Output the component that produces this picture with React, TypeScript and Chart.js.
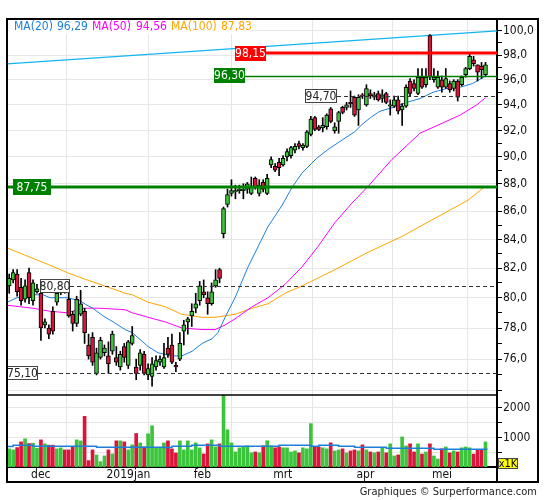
import { useEffect, useRef } from 'react';
import { Chart, registerables } from 'chart.js';
Chart.register(...registerables);

const opens = [80.8,81.2,81.6,80.7,79.9,81.7,79.8,80.4,80.3,78.2,
 78.0,79.1,79.7,80.4,80.6,79.9,78.9,78.3,78.9,79.1,
 76.9,77.4,75.1,76.1,76.4,76.2,76.5,76.1,75.5,76.8,
 75.6,77.0,75.5,75.6,76.3,75.0,74.9,75.5,75.8,75.5,
 76.7,76.9,75.6,76.0,77.8,78.4,78.8,79.3,79.8,80.4,
 80.0,79.6,80.8,81.9,84.4,86.5,87.3,87.4,87.5,87.5,
 87.6,87.3,88.4,87.3,88.1,87.3,89.4,89.3,89.6,89.4,
 90.0,90.1,90.5,91.0,90.7,90.8,91.7,93.0,92.3,92.2,
 92.3,93.7,92.0,92.7,93.8,93.8,94.2,94.6,93.6,94.8,
 94.0,94.9,94.6,94.9,94.5,94.9,93.9,93.9,94.4,93.6,
 93.9,95.9,95.7,94.9,96.2,95.6,99.6,96.0,95.4,96.0,
 95.4,95.7,95.3,95.9,95.6,96.4,96.9,97.6,97.2,97.1,
 96.4];
const highs = [81.6,81.9,81.9,81.3,81.2,82.0,81.2,80.9,80.6,78.6,
 78.2,79.4,80.8,80.9,80.9,80.6,79.1,80.1,80.5,79.3,
 77.6,77.7,76.7,77.4,76.9,77.1,77.8,76.8,76.5,77.0,
 77.2,78.1,76.0,76.6,76.5,75.7,76.1,76.2,76.2,77.0,
 77.4,77.6,75.8,77.7,78.5,78.7,79.6,80.3,81.1,81.2,
 80.4,81.0,81.9,82.0,86.3,87.6,88.3,87.9,87.9,88.0,
 88.1,88.5,88.5,88.3,88.3,88.7,90.0,89.5,89.9,90.1,
 90.6,90.8,91.0,91.2,91.0,92.0,93.1,93.1,92.4,93.0,
 93.3,93.8,92.6,93.5,93.9,94.2,95.1,94.7,94.8,94.9,
 95.6,95.2,95.0,95.1,95.2,95.0,94.4,94.7,94.7,94.1,
 95.6,96.1,96.0,96.9,96.9,96.9,99.7,96.9,96.7,96.3,
 96.9,95.9,96.0,96.0,96.3,97.0,98.1,97.9,97.2,97.4,
 97.4];
const lows = [80.3,81.0,80.1,79.5,79.7,79.6,79.5,80.3,77.2,78.0,
 77.3,77.6,79.5,80.2,80.3,78.7,77.8,78.1,78.8,77.0,
 76.0,75.6,75.0,76.0,76.2,75.1,76.3,75.6,75.3,75.8,
 75.4,76.9,74.7,75.3,75.0,74.7,74.3,75.3,75.6,75.4,
 76.1,75.7,75.2,75.9,76.9,77.6,78.1,79.0,79.5,80.0,
 78.9,79.5,80.7,81.0,84.1,86.3,87.1,86.9,87.3,86.9,
 87.3,87.2,87.6,87.1,87.4,87.2,89.2,88.9,88.6,89.3,
 89.7,89.9,90.3,90.6,90.5,90.7,91.6,92.0,92.0,91.9,
 92.1,92.6,91.8,91.8,93.3,93.6,93.8,93.1,92.4,94.5,
 93.9,94.5,94.4,94.3,94.2,94.1,93.2,93.8,93.3,92.4,
 93.8,94.7,95.1,94.8,95.3,95.4,96.0,95.8,95.3,95.0,
 95.3,95.0,95.1,94.3,95.5,96.2,96.8,97.1,95.9,96.1,
 96.3];
const closes = [81.3,81.7,80.4,79.8,80.8,80.0,81.0,80.6,78.0,78.4,
 77.6,77.8,80.3,80.7,80.5,78.8,78.3,79.9,79.6,77.7,
 76.2,75.8,76.4,77.2,76.7,75.7,77.6,75.8,76.3,76.1,
 77.1,77.5,75.1,76.4,75.1,75.4,75.7,75.9,76.0,76.1,
 76.3,75.8,75.5,77.0,78.2,78.6,79.1,79.6,80.8,80.2,
 79.6,80.4,81.2,81.3,86.2,87.2,87.5,87.5,87.6,87.6,
 88.0,87.8,87.7,87.9,87.6,88.4,89.8,89.0,89.2,89.9,
 90.4,90.7,90.8,90.8,90.9,91.9,92.9,92.1,92.1,92.4,
 93.2,92.7,92.3,93.4,93.4,94.0,94.1,93.2,94.6,94.7,
 95.3,94.7,94.8,94.4,94.8,94.2,94.0,94.4,93.5,93.9,
 95.4,94.9,95.3,96.2,95.4,96.2,96.2,96.2,96.2,95.4,
 96.1,95.2,95.9,94.6,96.2,96.9,97.9,97.3,96.6,96.8,
 97.2];
const volumes = [614,580,659,852,955,795,807,636,920,784,
 739,739,614,648,580,580,682,920,886,1716,
 216,580,409,182,375,580,443,886,886,852,
 580,750,1136,818,682,1125,1398,648,648,818,
 886,614,477,886,580,886,580,818,648,443,
 784,920,682,784,2450,1261,818,511,648,682,
 716,480,510,480,715,890,715,650,680,650,
 650,510,545,480,650,615,1470,680,680,650,
 615,820,545,580,615,480,545,580,545,750,
 580,510,480,510,650,480,785,375,410,1020,
 715,785,510,785,440,510,785,375,270,615,
 680,480,545,510,650,680,650,440,580,580,
 850];

const monthStarts = [5, 24, 46, 66, 87, 106];
const monthLabels = ['dec', '2019jan', 'feb', 'mrt', 'apr', 'mei'];

const ma20X = [-0.5,2,6,8.5,10.3,14.6,17.8,19.6,21.1,23.6,26.2,29.2,31,35,37.5,41,43.5,46.1,48.6,51.1,52.6,54.4,56.9,60.2,65.2,68.7,71.2,73.8,77.5,80.5,84,87,89,91,93.4,96.7,100.2,103.5,106.8,110.3,113.6,116.8,120];
const ma20Y = [79.7,80.0,80.2,80.2,80.0,80.0,79.8,79.5,79.3,78.8,78.4,77.9,77.7,76.8,76.4,76.2,76.2,76.5,77.0,77.3,77.7,78.7,80.0,82.1,84.9,86.4,87.7,88.8,89.9,90.6,91.3,91.9,92.5,93.0,93.5,93.8,94.2,94.5,95.0,95.3,95.4,95.7,96.29];
const ma50X = [-0.5,6,10.3,14.6,18.6,22.9,29.2,31,35,39.3,43.5,48.6,51.9,54.4,56.9,61.2,65.2,69.5,73.8,77.8,82.1,86.4,90.4,96.4,103.5,109.3,113.6,117.8,120];
const ma50Y = [79.5,79.3,79.1,79.0,79.3,79.3,79.2,79.0,78.7,78.4,78.0,77.9,77.9,78.2,78.6,79.4,80.0,80.9,82.1,83.5,85.2,86.6,87.8,89.8,91.8,92.6,93.2,94.0,94.56];
const ma100X = [-0.5,4,10.3,14.6,18.6,22.9,29.2,31,35,39.3,43.5,46.1,48.6,51.9,54.4,56.9,61.2,65.2,69.5,73.8,82.1,90.4,98.9,107.3,115.6,120];
const ma100Y = [83.4,82.9,82.2,81.7,81.3,80.9,80.3,80.2,79.7,79.4,78.9,78.8,78.7,78.7,78.8,78.9,79.3,79.6,80.3,80.8,81.9,83.1,84.2,85.5,86.8,87.83];
const trendX = [-0.55, 122.9];
const trendY = [97.28, 100.0];
const volMaX = [-0.5, 1, 6, 22, 39, 41, 46, 53, 68, 76, 78, 83, 87, 95, 107, 114, 120.5];
const volMaY = [739, 693, 739, 705, 670, 659, 705, 739, 705, 739, 705, 739, 705, 670, 636, 602, 602];

const levelRed = 98.15;
const levelGreen = 96.30;
const levelGreenThick = 87.75;
const dashLevels = [94.70, 80.80, 75.10];

const priceTicks = [74,75,76,77,78,79,80,81,82,83,84,85,86,87,88,89,90,91,92,93,94,95,96,97,98,99,100];
const priceLabelTicks = [76,78,80,82,84,86,88,90,92,94,96,98,100];
const volTicks = [500, 1000, 1500, 2000];
const volLabelTicks = [1000, 2000];

const FONT = "'DejaVu Sans Condensed', 'DejaVu Sans', sans-serif";
const GREEN = '#3cc43c';
const RED = '#dc143c';
const GRID = '#e6e6e6';

const fmt = (v: number, d = 2) => v.toFixed(d).replace('.', ',');

const pts = (xs: number[], ys: number[]) => xs.map((x, i) => ({ x, y: ys[i] }));

function drawBox(ctx: CanvasRenderingContext2D, text: string, left: number, width: number, yc: number, h: number, fill: string, color: string, stroke?: string) {
  const top = Math.round(yc - h / 2);
  ctx.fillStyle = fill;
  ctx.fillRect(left, top, width, h);
  if (stroke) {
    ctx.strokeStyle = stroke;
    ctx.lineWidth = 1;
    ctx.strokeRect(left + 0.5, top + 0.5, width - 1, h - 1);
  }
  ctx.fillStyle = color;
  ctx.font = `12px ${FONT}`;
  ctx.textAlign = 'center';
  ctx.textBaseline = 'middle';
  ctx.fillText(text, left + width / 2, top + h / 2 + 0.5);
}

const overlay = {
  id: 'overlay',
  afterDatasetsDraw(chart: any) {
    const ctx: CanvasRenderingContext2D = chart.ctx;
    const y = chart.scales.y;
    const right = chart.chartArea.right;
    ctx.save();
    const dashStarts = [337, 70, 38];
    dashLevels.forEach((lv, k) => {
      const py = Math.round(y.getPixelForValue(lv)) + 0.5;
      ctx.strokeStyle = '#333';
      ctx.lineWidth = 1;
      ctx.setLineDash([4, 3]);
      ctx.beginPath();
      ctx.moveTo(dashStarts[k], py);
      ctx.lineTo(right, py);
      ctx.stroke();
    });
    ctx.setLineDash([]);
    let py = Math.round(y.getPixelForValue(levelGreen)) + 0.5;
    ctx.strokeStyle = '#008000';
    ctx.lineWidth = 1.5;
    ctx.beginPath(); ctx.moveTo(245, py); ctx.lineTo(right, py); ctx.stroke();
    py = Math.round(y.getPixelForValue(levelRed));
    ctx.strokeStyle = '#ff0000';
    ctx.lineWidth = 3;
    ctx.beginPath(); ctx.moveTo(266, py); ctx.lineTo(right, py); ctx.stroke();
    py = Math.round(y.getPixelForValue(levelGreenThick));
    ctx.strokeStyle = '#008000';
    ctx.lineWidth = 3;
    ctx.beginPath(); ctx.moveTo(chart.chartArea.left, py); ctx.lineTo(right, py); ctx.stroke();

    drawBox(ctx, fmt(levelRed), 235, 31, y.getPixelForValue(levelRed), 15, '#ff0000', '#fff');
    drawBox(ctx, fmt(levelGreen), 214, 31, y.getPixelForValue(levelGreen), 15, '#008000', '#fff');
    drawBox(ctx, fmt(levelGreenThick), 13, 38, y.getPixelForValue(levelGreenThick), 16, '#008000', '#fff');
    const boxLefts = [305, 40, 7];
    const boxW = [32, 30, 31];
    dashLevels.forEach((lv, k) => {
      drawBox(ctx, fmt(lv), boxLefts[k], boxW[k], y.getPixelForValue(lv), 14, '#fff', '#222', '#444');
    });
    ctx.restore();
  },
  afterDraw(chart: any) {
    const ctx: CanvasRenderingContext2D = chart.ctx;
    const ca = chart.chartArea;
    const vol = chart.scales.vol;
    ctx.save();
    ctx.fillStyle = '#fff';
    ctx.fillRect(9, 20, 241, 14);
    ctx.font = `12px ${FONT}`;
    ctx.textAlign = 'left';
    ctx.textBaseline = 'middle';
    const legend = [
      { name: 'MA(20)', val: ma20Y[ma20Y.length - 1], color: '#1e7fd8', x: 14, vx: 57 },
      { name: 'MA(50)', val: ma50Y[ma50Y.length - 1], color: '#ff00ff', x: 92, vx: 136 },
      { name: 'MA(100)', val: ma100Y[ma100Y.length - 1], color: '#ffa500', x: 171, vx: 221 },
    ];
    legend.forEach((l) => {
      ctx.fillStyle = l.color;
      ctx.fillText(l.name, l.x, 27);
      ctx.fillText(fmt(l.val), l.vx, 27);
    });
    ctx.strokeStyle = '#000';
    ctx.lineWidth = 2;
    ctx.strokeRect(7, 19, 531, 463);
    ctx.lineWidth = 1.5;
    ctx.beginPath();
    ctx.moveTo(7, vol.top);
    ctx.lineTo(ca.right, vol.top);
    ctx.stroke();
    ctx.lineWidth = 2;
    ctx.beginPath();
    ctx.moveTo(ca.right, ca.bottom);
    ctx.lineTo(ca.right, 482);
    ctx.stroke();
    ctx.fillStyle = '#ffff00';
    ctx.fillRect(498, 458, 20, 11);
    ctx.strokeStyle = '#444';
    ctx.lineWidth = 1;
    ctx.strokeRect(498.5, 458.5, 19, 10);
    ctx.fillStyle = '#000';
    ctx.font = `11px ${FONT}`;
    ctx.textAlign = 'center';
    ctx.fillText('x1K', 508, 464);
    ctx.fillStyle = '#222';
    ctx.font = `11px ${FONT}`;
    ctx.textAlign = 'right';
    ctx.fillText('Graphiques \u00a9 Surperformance.com', 537, 492);
    ctx.restore();
  },
};

export default function App() {
  const ref = useRef<HTMLCanvasElement>(null);
  useEffect(() => {
    if (!ref.current) return;
    const idx = closes.map((_, i) => i);
    const candleColors = idx.map((i) => (closes[i] >= opens[i] ? GREEN : RED));
    const chart = new Chart(ref.current, {
      type: 'bar',
      data: {
        datasets: [
          {
            type: 'bar',
            label: 'bodies',
            yAxisID: 'y',
            data: idx.map((i) => ({ x: i, y: [Math.min(opens[i], closes[i]), Math.max(opens[i], closes[i])] })) as any,
            backgroundColor: candleColors,
            borderColor: '#000',
            borderWidth: 1,
            borderSkipped: false,
            barThickness: 4,
            grouped: false,
            order: 1,
          } as any,
          {
            type: 'bar',
            label: 'wicks',
            yAxisID: 'y',
            data: idx.map((i) => ({ x: i, y: [lows[i], highs[i]] })) as any,
            backgroundColor: '#000',
            barThickness: 1,
            grouped: false,
            order: 2,
          } as any,
          {
            type: 'line',
            label: 'MA20',
            yAxisID: 'y',
            data: pts(ma20X, ma20Y),
            borderColor: '#1e7fd8',
            borderWidth: 1,
            pointRadius: 0,
            order: 3,
          },
          {
            type: 'line',
            label: 'MA50',
            yAxisID: 'y',
            data: pts(ma50X, ma50Y),
            borderColor: '#ff00ff',
            borderWidth: 1,
            pointRadius: 0,
            order: 3,
          },
          {
            type: 'line',
            label: 'MA100',
            yAxisID: 'y',
            data: pts(ma100X, ma100Y),
            borderColor: '#ffa500',
            borderWidth: 1,
            pointRadius: 0,
            order: 3,
          },
          {
            type: 'line',
            label: 'trend',
            yAxisID: 'y',
            data: pts(trendX, trendY),
            borderColor: '#12b5ee',
            borderWidth: 1.2,
            pointRadius: 0,
            order: 3,
          },
          {
            type: 'line',
            label: 'volMA',
            yAxisID: 'vol',
            data: pts(volMaX, volMaY),
            borderColor: '#1e7fd8',
            borderWidth: 1.5,
            pointRadius: 0,
            stepped: 'after',
            order: 5,
          } as any,
          {
            type: 'bar',
            label: 'volume',
            yAxisID: 'vol',
            data: idx.map((i) => ({ x: i, y: volumes[i] })) as any,
            backgroundColor: candleColors,
            barThickness: 3,
            grouped: false,
            order: 6,
          } as any,
        ],
      },
      options: {
        animation: false,
        responsive: false,
        devicePixelRatio: 1,
        layout: { padding: { left: 7, top: 19, right: 7, bottom: 18 } },
        plugins: { legend: { display: false }, tooltip: { enabled: false } },
        scales: {
          x: {
            type: 'linear',
            min: -0.55,
            max: 122.9,
            offset: false,
            position: 'bottom',
            grid: { color: GRID, drawTicks: false },
            border: { color: '#000', width: 2 },
            ticks: {
              autoSkip: false,
              maxRotation: 0,
              minRotation: 0,
              align: 'start',
              labelOffset: 2,
              padding: 1,
              color: '#111',
              font: { family: FONT, size: 12 },
              callback: (_v: any, i: number) => monthLabels[i],
            },
            afterBuildTicks: (s: any) => { s.ticks = monthStarts.map((v) => ({ value: v })); },
            afterFit: (s: any) => { s.height = 15; },
          } as any,
          y: {
            type: 'logarithmic',
            position: 'right',
            stack: 'panels',
            stackWeight: 376,
            weight: 1,
            min: 73.75,
            max: 101.0,
            grid: {
              color: (c: any) => (c.tick && Math.round(c.tick.value) % 2 === 0 ? GRID : 'rgba(0,0,0,0)'),
              tickColor: '#000',
              tickLength: 5,
            },
            border: { color: '#000', width: 2 },
            ticks: {
              autoSkip: false,
              padding: 1,
              color: '#111',
              font: { family: FONT, size: 12 },
              callback: (v: any) => (priceLabelTicks.includes(Math.round(Number(v))) ? fmt(Number(v), 1) : ''),
            },
            afterBuildTicks: (s: any) => { s.ticks = priceTicks.map((v) => ({ value: v })); },
            afterFit: (s: any) => { s.width = 41; },
          } as any,
          vol: {
            type: 'linear',
            position: 'right',
            stack: 'panels',
            stackWeight: 72,
            weight: 2,
            min: 0,
            max: 2440,
            grid: { color: GRID, tickColor: '#000', tickLength: 5 },
            border: { color: '#000', width: 2 },
            ticks: {
              autoSkip: false,
              padding: 1,
              color: '#111',
              font: { family: FONT, size: 12 },
              callback: (v: any) => (volLabelTicks.includes(Number(v)) ? String(v) : ''),
            },
            afterBuildTicks: (s: any) => { s.ticks = volTicks.map((v) => ({ value: v })); },
            afterFit: (s: any) => { s.width = 41; },
          } as any,
        },
      },
      plugins: [overlay],
    });
    return () => chart.destroy();
  }, []);
  return (
    <div style={{ position: 'absolute', left: 0, top: 0, width: 545, height: 500, background: '#fff' }}>
      <canvas ref={ref} width={545} height={500} />
    </div>
  );
}
